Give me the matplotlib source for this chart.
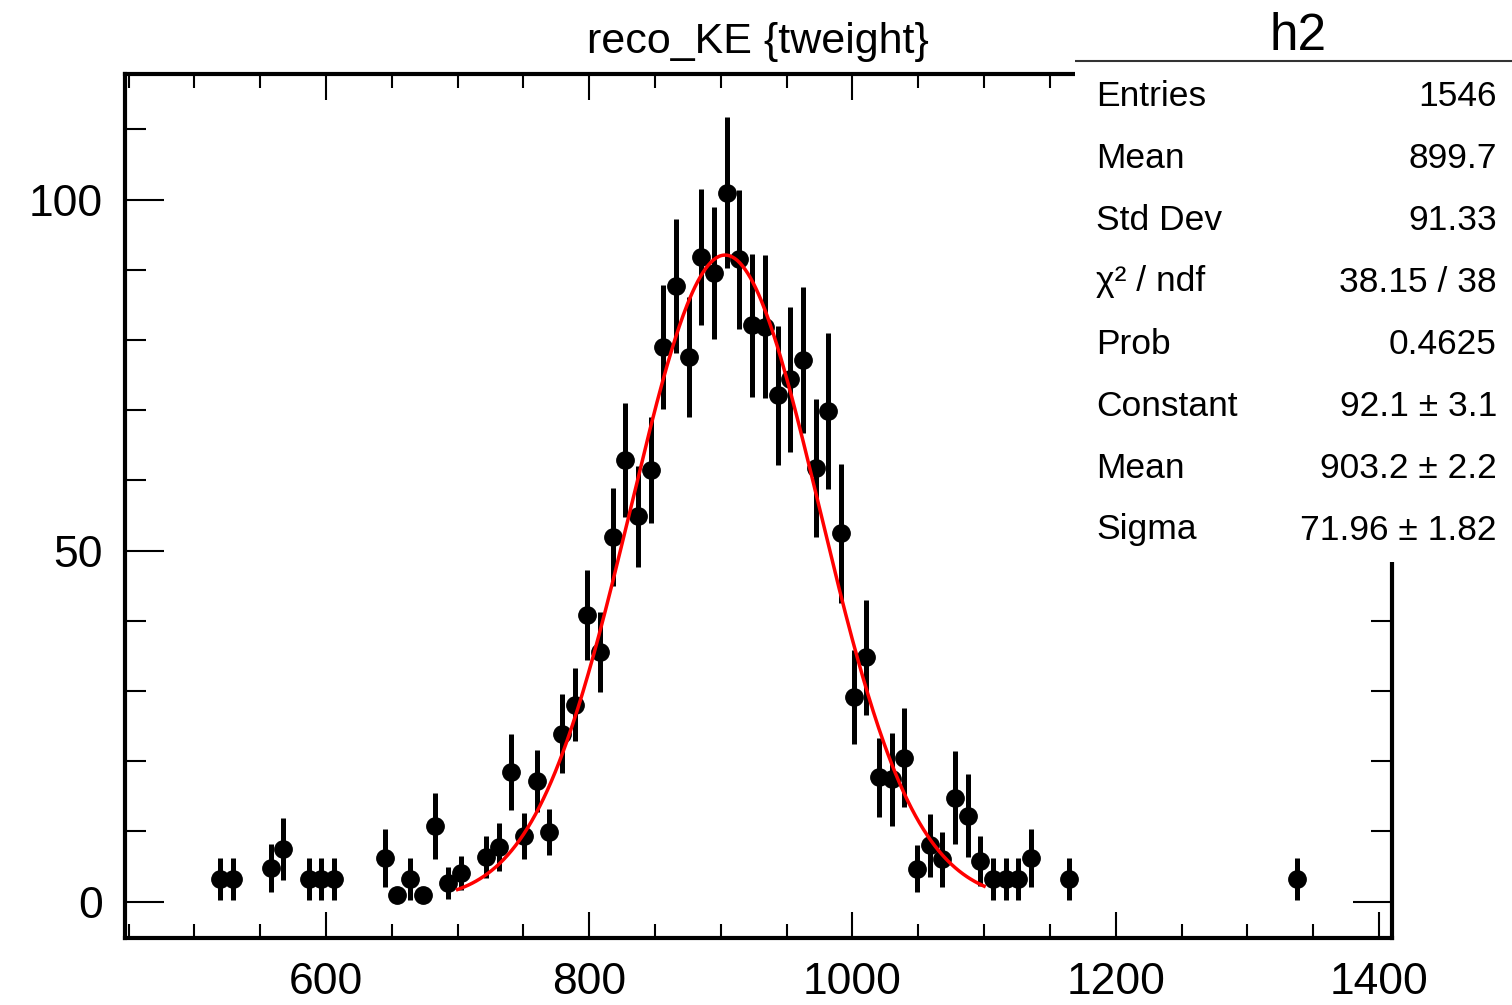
import numpy as np
import matplotlib
matplotlib.use("Agg")
import matplotlib.pyplot as plt
from matplotlib.ticker import MultipleLocator

plt.rcParams['font.family'] = ['Liberation Sans', 'DejaVu Sans']

# histogram binning (100 bins over the axis range)
x_lo, x_hi, n_bins = 447.3, 1409.9, 100

# non-empty bins
bin_idx = [7, 8, 11, 12, 14, 15, 16, 20, 21, 22, 23, 24, 25, 26, 28, 29, 30, 31,
           32, 33, 34, 35, 36, 37, 38, 39, 40, 41, 42, 43, 44, 45, 46, 47, 48, 49,
           50, 51, 52, 53, 54, 55, 56, 57, 58, 59, 60, 61, 62, 63, 64, 65, 66, 67,
           68, 69, 70, 71, 74, 92]
counts = [3.2, 3.2, 4.8, 7.5, 3.2, 3.2, 3.2, 6.2, 0.9, 3.2, 0.9, 10.8, 2.6, 4.1,
          6.4, 7.8, 18.5, 9.3, 17.2, 9.9, 23.9, 28.0, 40.8, 35.6, 51.9, 62.9, 54.9,
          61.5, 79.0, 87.7, 77.6, 91.8, 89.6, 101.0, 91.5, 82.1, 81.9, 72.1, 74.4,
          77.1, 61.8, 69.9, 52.5, 29.1, 34.8, 17.7, 17.4, 20.5, 4.7, 8.0, 6.0, 14.8,
          12.2, 5.8, 3.2, 3.2, 3.2, 6.2, 3.2, 3.2]
errors = [3.0, 3.0, 3.4, 4.4, 3.0, 3.0, 3.0, 4.1, 0.9, 3.0, 0.9, 4.7, 2.3, 2.4,
          3.0, 3.4, 5.4, 3.3, 4.4, 3.3, 5.6, 5.2, 6.4, 5.7, 7.0, 8.1, 7.2,
          7.6, 8.8, 9.6, 8.5, 9.7, 9.4, 10.8, 9.9, 10.2, 10.2, 9.9, 10.3,
          10.4, 9.8, 11.1, 9.9, 6.7, 8.2, 5.6, 6.6, 7.0, 3.3, 4.5, 3.9, 6.6,
          5.9, 3.6, 3.0, 3.0, 3.0, 4.1, 3.0, 3.0]

# gaussian fit results
fit_const, fit_mean, fit_sigma = 92.1, 903.2, 71.96
fit_lo, fit_hi = 700, 1100

stats_labels = ["Entries", "Mean", "Std Dev", "χ² / ndf", "Prob",
                "Constant", "Mean", "Sigma"]
stats_values = ["1546", "899.7", "91.33", "38.15 / 38", "0.4625",
                "92.1 ± 3.1", "903.2 ± 2.2", "71.96 ± 1.82"]

bw = (x_hi - x_lo) / n_bins
centers = x_lo + (np.array(bin_idx) + 0.5) * bw

fig = plt.figure(figsize=(15.12, 10.05), dpi=100)
ax = fig.add_axes([125 / 1512, 1 - 938 / 1005, 1267 / 1512, 864 / 1005])

ax.errorbar(centers, counts, yerr=errors, xerr=bw / 2, fmt='o', color='black',
            ms=12.5, elinewidth=3.6, capsize=0, zorder=3)

xf = np.linspace(fit_lo, fit_hi, 400)
ax.plot(xf, fit_const * np.exp(-0.5 * ((xf - fit_mean) / fit_sigma) ** 2),
        color='red', lw=2.5, zorder=4)

ax.set_xlim(x_lo, x_hi)
ax.set_ylim(-5.2, 117.9)
ax.xaxis.set_major_locator(MultipleLocator(200))
ax.xaxis.set_minor_locator(MultipleLocator(50))
ax.yaxis.set_major_locator(MultipleLocator(50))
ax.yaxis.set_minor_locator(MultipleLocator(10))
ax.tick_params(axis='x', which='both', direction='in', top=True, bottom=True,
               labelsize=32, pad=17, width=1.5)
ax.tick_params(axis='x', which='major', length=19)
ax.tick_params(axis='x', which='minor', length=10)
ax.tick_params(axis='y', which='both', direction='in', left=True, right=True,
               labelsize=32, pad=16, width=1.5)
ax.tick_params(axis='y', which='major', length=28)
ax.tick_params(axis='y', which='minor', length=15)
for sp in ax.spines.values():
    sp.set_linewidth(3)

fig.text(758 / 1512, 1 - 42 / 1005, "reco_KE {tweight}", fontsize=31,
         ha='center', va='center')

# stats box
sax = fig.add_axes([1075 / 1512, 1 - 562 / 1005, 437 / 1512, 562 / 1005], zorder=5)
sax.set_facecolor('white')
sax.set_xlim(1075, 1512)
sax.set_ylim(562, 0)
sax.set_xticks([])
sax.set_yticks([])
for sp in sax.spines.values():
    sp.set_visible(False)
sax.plot([1075, 1512], [61, 61], color='#333333', lw=1.5)
sax.text(1298, 36, "h2", fontsize=37, ha='center', va='center')
for i, (lab, val) in enumerate(zip(stats_labels, stats_values)):
    y = 96 + i * 62
    sax.text(1096, y, lab, fontsize=25.5, ha='left', va='center')
    sax.text(1497, y, val, fontsize=25.5, ha='right', va='center')

fig.savefig("out.png", dpi=100)
